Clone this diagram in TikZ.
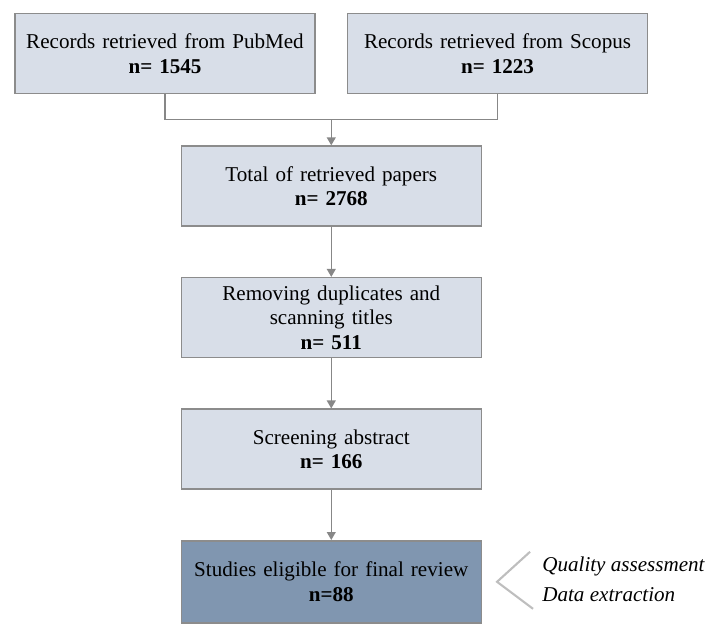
\documentclass[tikz,border=0pt]{standalone}
\usepackage{fontspec}
\setmainfont{Liberation Serif}
\usetikzlibrary{arrows.meta,positioning,calc}
\definecolor{BoxFill}{RGB}{216,222,232}
\definecolor{BoxLine}{RGB}{140,140,140}
\definecolor{FinalFill}{RGB}{128,150,176}
\definecolor{LinkGray}{RGB}{135,135,135}
\definecolor{BraceGray}{RGB}{190,190,190}
\tikzset{
  recbox/.style={draw=BoxLine,fill=BoxFill,line width=1.1pt,
    minimum width=7.5cm,minimum height=2cm,text width=7cm,align=center,
    inner sep=2pt,font=\fontsize{15}{17.5}\selectfont},
  finalbox/.style={recbox,fill=FinalFill,minimum height=2.05cm},
  link/.style={LinkGray,line width=1.1pt},
  arrow/.style={link,-{Triangle[length=0.2cm,width=0.22cm]}},
  note/.style={anchor=base west,inner sep=0pt,
    font=\fontsize{15}{17.5}\selectfont\itshape}
}
\begin{document}
\begin{tikzpicture}[node distance=1.25cm]
  \useasboundingbox (0,0) rectangle (17.95,-15.725);
  \node[recbox] (pubmed) at (4.125,-1.34) {Records retrieved from PubMed\\\textbf{n= 1545}};
  \node[recbox,right=0.775cm of pubmed] (scopus) {Records retrieved from Scopus\\\textbf{n= 1223}};
  \coordinate (join) at ($(pubmed.south)!0.5!(scopus.south)+(0,-0.625)$);
  \node[recbox,below=0.65cm of join] (total) {Total of retrieved papers\\\textbf{n= 2768}};
  \node[recbox,below=of total] (dedup) {Removing duplicates and\\scanning titles\\\textbf{n= 511}};
  \node[recbox,below=of dedup] (screen) {Screening abstract\\\textbf{n= 166}};
  \node[finalbox,below=of screen] (final) {Studies eligible for final review\\\textbf{n=88}};
  \draw[link] (pubmed.south) |- (join) -| (scopus.south);
  \draw[arrow] (join) -- (total);
  \draw[arrow] (total) -- (dedup);
  \draw[arrow] (dedup) -- (screen);
  \draw[arrow] (screen) -- (final);
  % side notes
  \coordinate (tip) at ($(final.east)+(0.375,0)$);
  \coordinate (armtop) at ($(tip)+(0.825,0.75)$);
  \coordinate (armbot) at ($(tip)+(0.9,-0.675)$);
  \draw[BraceGray,line width=1.5pt] (armtop) -- (tip) -- (armbot);
  \node[note] (quality) at ($(tip)+(1.125,0.265)$) {Quality assessment};
  \node[note] (extract) at ($(tip)+(1.125,-0.485)$) {Data extraction};
\end{tikzpicture}
\end{document}
